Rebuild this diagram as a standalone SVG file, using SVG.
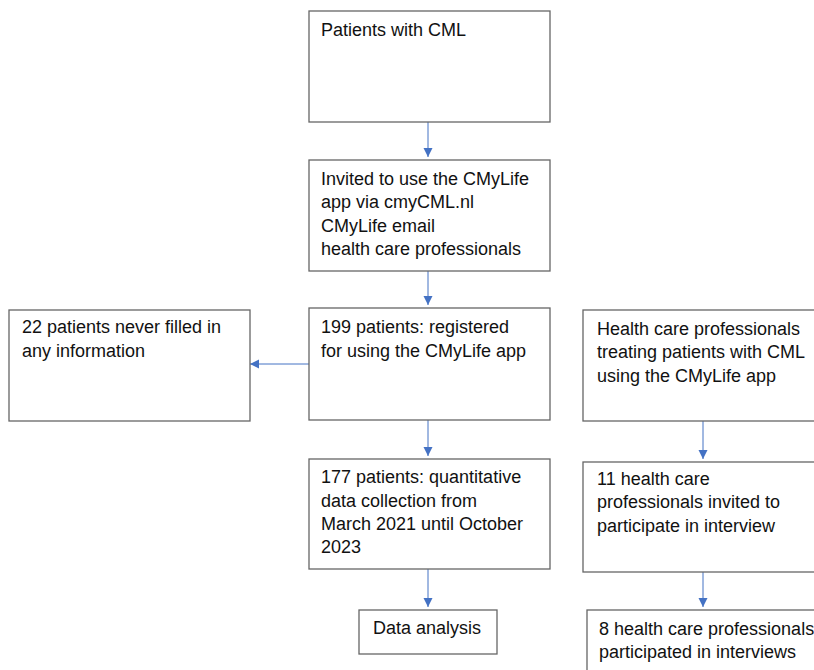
<svg xmlns="http://www.w3.org/2000/svg" width="814" height="670" viewBox="0 0 814 670">
<defs>
<marker id="ah" markerUnits="userSpaceOnUse" markerWidth="10" markerHeight="10" refX="9" refY="5" orient="auto">
<path d="M0,0.5 L9,5 L0,9.5 Z" fill="#4472C4"/>
</marker>
</defs>
<style>
.box{fill:#ffffff;stroke:#666666;stroke-width:1.3}
.t{font-family:"Liberation Sans",Arial,sans-serif;font-size:18px;fill:#111111}
.c{stroke:#4472C4;stroke-width:1;fill:none;marker-end:url(#ah)}
</style>
<rect width="814" height="670" fill="#ffffff"/>
<g id="connectors">
<line class="c" x1="428" y1="122" x2="428" y2="157"/>
<line class="c" x1="428" y1="271" x2="428" y2="305"/>
<line class="c" x1="309" y1="364" x2="250" y2="364"/>
<line class="c" x1="428" y1="420" x2="428" y2="456"/>
<line class="c" x1="428" y1="569" x2="428" y2="607"/>
<line class="c" x1="703" y1="421" x2="703" y2="459"/>
<line class="c" x1="703" y1="572" x2="703" y2="607"/>
</g>
<g id="n1"><rect class="box" x="309" y="11" width="241" height="111"/>
<text class="t" x="321" y="36">Patients with CML</text></g>
<g id="n2"><rect class="box" x="309" y="160" width="241" height="111"/>
<text class="t" x="321" y="185">Invited to use the CMyLife</text>
<text class="t" x="321" y="208">app via cmyCML.nl</text>
<text class="t" x="321" y="232">CMyLife email</text>
<text class="t" x="321" y="255">health care professionals</text></g>
<g id="n3"><rect class="box" x="309" y="308" width="241" height="112"/>
<text class="t" x="321" y="333">199 patients: registered</text>
<text class="t" x="321" y="357">for using the CMyLife app</text></g>
<g id="n4"><rect class="box" x="9" y="310" width="241" height="111"/>
<text class="t" x="22" y="333">22 patients never filled in</text>
<text class="t" x="22" y="357">any information</text></g>
<g id="n5"><rect class="box" x="309" y="459" width="241" height="110"/>
<text class="t" x="321" y="483">177 patients: quantitative</text>
<text class="t" x="321" y="507">data collection from</text>
<text class="t" x="321" y="530">March 2021 until October</text>
<text class="t" x="321" y="553">2023</text></g>
<g id="n6"><rect class="box" x="359" y="610" width="138" height="44"/>
<text class="t" x="373" y="634">Data analysis</text></g>
<g id="n7"><rect class="box" x="583" y="310" width="240" height="111"/>
<text class="t" x="597" y="335">Health care professionals</text>
<text class="t" x="597" y="358">treating patients with CML</text>
<text class="t" x="597" y="382">using the CMyLife app</text></g>
<g id="n8"><rect class="box" x="583" y="462" width="240" height="110"/>
<text class="t" x="597" y="485">11 health care</text>
<text class="t" x="597" y="508">professionals invited to</text>
<text class="t" x="597" y="532">participate in interview</text></g>
<g id="n9"><rect class="box" x="587" y="610" width="240" height="70"/>
<text class="t" x="599" y="635">8 health care professionals</text>
<text class="t" x="599" y="658">participated in interviews</text></g>
</svg>
